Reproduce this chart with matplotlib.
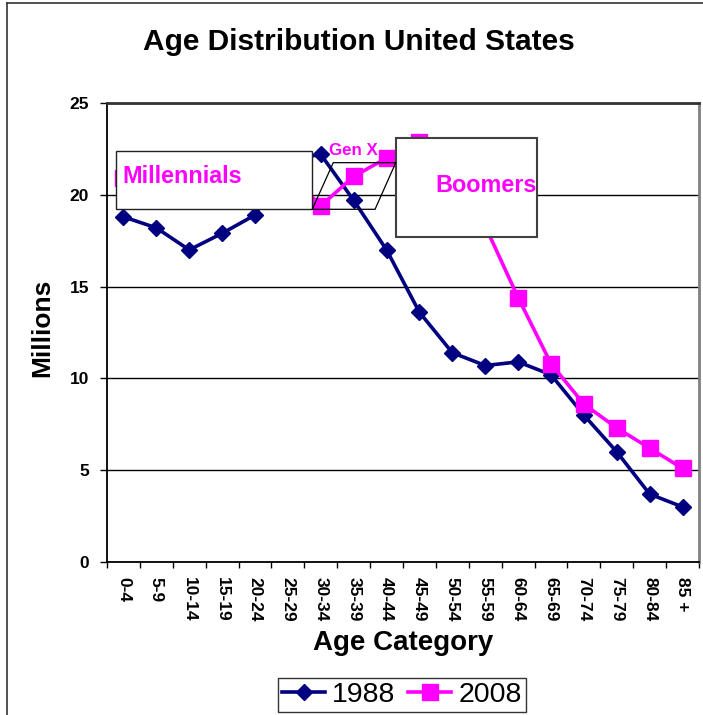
import matplotlib
matplotlib.use("Agg")
import matplotlib.pyplot as plt
from matplotlib.patches import Rectangle, Polygon
from matplotlib.lines import Line2D

plt.rcParams['font.family'] = ['Liberation Sans', 'DejaVu Sans']

# data (millions)
age_groups = ['0-4', '5-9', '10-14', '15-19', '20-24', '25-29', '30-34', '35-39',
              '40-44', '45-49', '50-54', '55-59', '60-64', '65-69', '70-74',
              '75-79', '80-84', '85 +']
pop_1988 = [18.8, 18.2, 17.0, 17.9, 18.9, 21.9, 22.2, 19.7, 17.0, 13.6,
            11.4, 10.7, 10.9, 10.2, 8.0, 6.0, 3.7, 3.0]
pop_2008 = [20.9, 20.1, 20.0, 21.5, 21.1, 21.2, 19.4, 21.0, 22.0, 22.9,
            21.0, 18.3, 14.4, 10.8, 8.6, 7.3, 6.2, 5.1]

navy = '#000080'
magenta = '#FF00FF'

fig = plt.figure(figsize=(7.03, 7.15), dpi=100)
ax = fig.add_axes([107/703, 1 - 562/715, 592/703, 459/715])

x = list(range(len(age_groups)))
l1, = ax.plot(x, pop_1988, color=navy, lw=2.6, marker='D', ms=8.3, mew=1,
              mec=navy, label='1988', zorder=2)
l2, = ax.plot(x, pop_2008, color=magenta, lw=2.6, marker='s', ms=11, mew=1,
              mec=magenta, label='2008', zorder=2)

ax.set_xlim(-0.5, len(age_groups) - 0.5)
ax.set_ylim(0, 25)
ax.set_yticks([0, 5, 10, 15, 20, 25])
ax.set_xticks(x)
ax.set_xticklabels(age_groups, rotation=270, fontsize=12.5, fontweight='bold')
ax.set_xticks([i - 0.5 for i in range(len(age_groups) + 1)], minor=True)
ax.tick_params(axis='x', which='major', length=0, pad=11)
ax.tick_params(axis='x', which='minor', length=4, width=1, direction='out')
ax.tick_params(axis='y', length=5, width=1, direction='out', pad=8,
               labelsize=12.5)
for t in ax.get_yticklabels():
    t.set_fontweight('bold')

ax.grid(axis='y', color='black', lw=1, zorder=0.5)
ax.set_axisbelow(True)
for s in ['left', 'bottom']:
    ax.spines[s].set_color('black')
    ax.spines[s].set_linewidth(1.3)
ax.spines['top'].set_color('#333333')
ax.spines['top'].set_linewidth(2)
ax.spines['right'].set_color('#808080')
ax.spines['right'].set_linewidth(2)

# annotation boxes
ax.add_patch(Rectangle((-0.23, 19.23), 5.97, 3.16, facecolor='white',
                       edgecolor='#222222', lw=1, zorder=3))
ax.add_patch(Rectangle((8.28, 17.72), 4.30, 5.36, facecolor='white',
                       edgecolor='#404040', lw=1.5, zorder=3))
ax.add_patch(Polygon([(5.74, 19.21), (6.38, 21.75), (8.28, 21.75), (7.65, 19.21)],
                     closed=True, fill=False, edgecolor='black', lw=0.9, zorder=4))
ax.text(-0.04, 20.63, 'Millennials', color=magenta, fontsize=16.8,
        fontweight='bold', ha='left', va='baseline', zorder=5)
ax.text(9.47, 20.17, 'Boomers', color=magenta, fontsize=16.8,
        fontweight='bold', ha='left', va='baseline', zorder=5)
ax.text(6.25, 22.17, 'Gen X', color=magenta, fontsize=12.2,
        fontweight='bold', ha='left', va='baseline', zorder=5)

fig.text(359/703, 1 - 42/715, 'Age Distribution United States', fontsize=21.5,
         fontweight='bold', ha='center', va='center')
fig.text(42/703, 1 - 328/715, 'Millions', fontsize=19, fontweight='bold',
         rotation=90, ha='center', va='center')
fig.text(403/703, 1 - 643/715, 'Age Category', fontsize=20, fontweight='bold',
         ha='center', va='center')

leg = fig.legend(handles=[l1, l2], loc='center', ncol=2,
                 bbox_to_anchor=(402/703, 1 - 695/715), fontsize=20.5,
                 frameon=True, fancybox=False, edgecolor='black',
                 handlelength=1.5, handletextpad=0.25, columnspacing=0.45,
                 borderpad=0.15, borderaxespad=0)
leg.get_frame().set_linewidth(1)

# outer chart border
fig.add_artist(Line2D([7/703, 7/703], [0, 1 - 3/715], color='#333333', lw=1.2))
fig.add_artist(Line2D([7/703, 1], [1 - 3/715, 1 - 3/715], color='#333333', lw=1.2))

fig.savefig('out.png', dpi=100)
